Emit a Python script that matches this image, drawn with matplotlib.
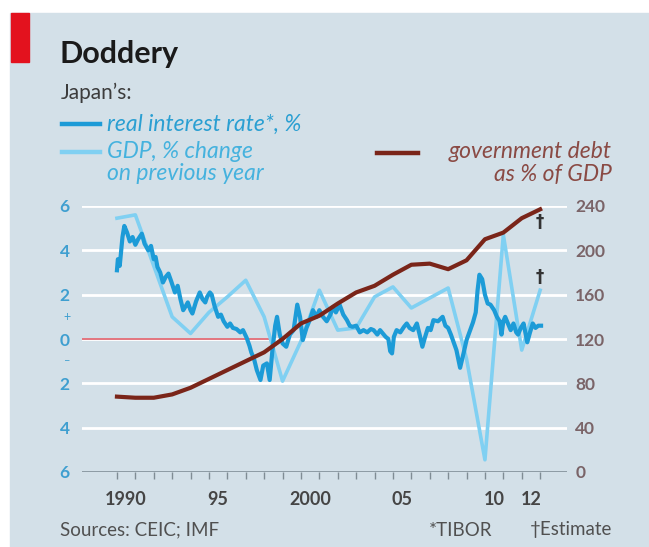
import matplotlib
matplotlib.use("Agg")
import matplotlib.pyplot as plt
from matplotlib.lines import Line2D
from matplotlib.patches import Rectangle

plt.rcParams['font.family'] = ['Lato', 'DejaVu Sans']

# real interest rate (TIBOR), %
rate_x = [1990.00, 1990.05, 1990.15, 1990.30, 1990.40, 1990.55, 1990.70, 1990.85,
          1991.00, 1991.15, 1991.35, 1991.50, 1991.70, 1991.85, 1992.00, 1992.10,
          1992.20, 1992.35, 1992.50, 1992.65, 1992.80, 1992.95, 1993.15, 1993.30,
          1993.45, 1993.60, 1993.75, 1993.85, 1994.00, 1994.10, 1994.30, 1994.50,
          1994.65, 1994.80, 1994.90, 1995.05, 1995.15, 1995.30, 1995.50, 1995.65,
          1995.80, 1996.00, 1996.15, 1996.30, 1996.50, 1996.70, 1996.85, 1997.05,
          1997.20, 1997.30, 1997.45, 1997.60, 1997.80, 1997.95, 1998.15, 1998.30,
          1998.45, 1998.60, 1998.70, 1998.85, 1999.00, 1999.20, 1999.40, 1999.60,
          1999.80, 1999.95, 2000.10, 2000.30, 2000.50, 2000.65, 2000.85, 2001.00,
          2001.20, 2001.40, 2001.60, 2001.75, 2001.90, 2002.10, 2002.30, 2002.50,
          2002.65, 2002.80, 2003.00, 2003.20, 2003.40, 2003.60, 2003.80, 2003.95,
          2004.15, 2004.30, 2004.45, 2004.60, 2004.75, 2004.85, 2004.95, 2005.05,
          2005.20, 2005.40, 2005.60, 2005.75, 2005.90, 2006.10, 2006.30, 2006.45,
          2006.60, 2006.75, 2006.90, 2007.05, 2007.20, 2007.45, 2007.70, 2007.85,
          2008.00, 2008.15, 2008.30, 2008.45, 2008.65, 2008.85, 2009.00, 2009.20,
          2009.35, 2009.50, 2009.60, 2009.70, 2009.85, 2010.00, 2010.15, 2010.30,
          2010.50, 2010.65, 2010.80, 2010.90, 2011.00, 2011.10, 2011.25, 2011.40,
          2011.55, 2011.70, 2011.80, 2011.95, 2012.10, 2012.30, 2012.45, 2012.60,
          2012.75, 2012.90, 2013.05]
rate_y = [3.1, 3.6, 3.3, 4.6, 5.1, 4.8, 4.4, 4.6,
          4.25, 4.5, 4.75, 4.3, 4.0, 4.2, 3.6, 3.7,
          3.25, 3.0, 2.55, 2.8, 2.95, 2.6, 2.1, 2.4,
          1.8, 1.3, 1.5, 1.65, 1.3, 1.15, 1.7, 2.1,
          1.8, 1.65, 1.9, 2.1, 2.0, 1.5, 1.0, 1.1,
          0.8, 0.55, 0.7, 0.5, 0.45, 0.3, 0.4, 0.05,
          -0.3, -0.6, -0.9, -1.4, -1.85, -1.2, -1.1, -1.85,
          -0.5, 0.6, 1.0, 0.2, -0.2, -0.35, 0.2, 0.4,
          1.55, 1.0, -0.05, 0.5, 0.9, 1.3, 1.0, 1.3,
          1.0, 0.8, 1.1, 1.45, 1.2, 1.55, 1.1, 0.85,
          0.6, 0.55, 0.6, 0.3, 0.4, 0.3, 0.45, 0.4,
          0.2, 0.4, 0.25, 0.1, 0.0, -0.55, -0.65, 0.1,
          0.4, 0.3, 0.55, 0.7, 0.5, 0.4, 0.7, 0.2,
          -0.35, 0.1, 0.5, 0.4, 0.85, 0.8, 1.0, 0.6,
          0.5, 0.2, -0.15, -0.5, -1.3, -0.6, -0.05, 0.4,
          0.75, 1.2, 2.2, 2.9, 2.7, 2.0, 1.6, 1.55,
          1.3, 1.0, 0.8, 0.2, 0.8, 1.0, 0.7, 0.4,
          0.7, 0.3, 0.2, 0.5, 0.7, -0.15, 0.3, 0.7,
          0.5, 0.6, 0.6]

# GDP, % change on previous year (plotted at year end)
gdp_x = list(range(1990, 2014))
gdp_y = [5.45, 5.6, 3.3, 1.0, 0.25, 1.2, 1.9, 2.65, 1.0, -1.9, -0.1, 2.2,
         0.4, 0.5, 1.9, 2.35, 1.4, 1.85, 2.3, -0.9, -5.45, 4.7, -0.5, 2.2]

# government debt, % of GDP (right axis)
debt_x = list(range(1990, 2014))
debt_y = [68, 67, 67, 70, 76, 84, 92, 100, 108, 120, 134, 141,
          152, 162, 168, 178, 187, 188, 183, 191, 210, 216, 229, 237]

left_ticks = [6, 4, 2, 0, -2, -4, -6]
left_labels = ['6', '4', '2', '0', '2', '4', '6']
right_ticks = [0, 40, 80, 120, 160, 200, 240]
year_labels = {1990: '1990', 1995: '95', 2000: '2000', 2005: '05', 2010: '10', 2012: '12'}

W, H = 649, 547
bg = '#d3e0e8'
c_rate = '#1c9bd7'
c_gdp = '#80d0f2'
c_debt = '#7a2519'
c_right = '#7a6468'
c_left = '#3f9fd0'


def px(x, y):
    return x / W, 1 - y / H


fig = plt.figure(figsize=(W / 100, H / 100), dpi=100, facecolor='white')
fig.patches.append(Rectangle(px(10, H), (W - 10) / W, (H - 13) / H,
                             transform=fig.transFigure, color=bg, zorder=-10))
fig.patches.append(Rectangle(px(11, 62), 18 / W, 49 / H,
                             transform=fig.transFigure, color='#e3121e', zorder=-5))

x0, y0 = px(82, 472)
x1, y1 = px(567, 206)
ax = fig.add_axes([x0, y0, x1 - x0, y1 - y0])
ax.set_facecolor('none')
ax.set_xlim(1988.1, 2014.46)
ax.set_ylim(-6, 6)
for s in ax.spines.values():
    s.set_visible(False)

# grid
for v in left_ticks:
    if v == -6:
        ax.axhline(v, color='#8d9ba4', lw=1.4, zorder=1)
    else:
        ax.axhline(v, color='white', lw=2.0, zorder=1)
ax.plot([1988.1, 1998.3], [0, 0], color='#e06a74', lw=1.3, zorder=2)

ax.plot(gdp_x, gdp_y, color=c_gdp, lw=2.6, zorder=3, solid_joinstyle='round')
ax.plot(rate_x, rate_y, color=c_rate, lw=3.0, zorder=4, solid_joinstyle='round')

ax.set_yticks(left_ticks)
ax.set_yticklabels(left_labels)
ax.tick_params(axis='y', length=0, pad=9, labelsize=12.5, labelcolor=c_left)
for lab in ax.get_yticklabels():
    lab.set_fontweight('bold')

ax.set_xticks(range(1990, 2014))
ax.set_xticklabels([])
ax.tick_params(axis='x', which='major', length=5, width=1, color='#7f8c94', direction='out')
ax.set_xticks([y + 0.5 for y in year_labels], minor=True)
ax.set_xticklabels(list(year_labels.values()), minor=True)
ax.tick_params(axis='x', which='minor', length=0, pad=14, labelsize=13, labelcolor='#454545')
for lab in ax.get_xticklabels(minor=True):
    lab.set_fontweight('bold')

ax2 = ax.twinx()
ax2.set_ylim(0, 240)
for s in ax2.spines.values():
    s.set_visible(False)
ax2.plot(debt_x, debt_y, color=c_debt, lw=3.0, zorder=5, solid_joinstyle='round')
ax2.set_yticks(right_ticks)
ax2.tick_params(axis='y', length=0, pad=6, labelsize=12.5, labelcolor=c_right)
for lab in ax2.get_yticklabels():
    lab.set_fontweight('bold')

# estimate markers
ax2.text(2013.0, 226, '\u2020', ha='center', va='center', fontsize=12, color='#333333',
         fontweight='bold', family=['DejaVu Sans'])
ax.text(2013.0, 2.8, '\u2020', ha='center', va='center', fontsize=12, color='#333333',
        fontweight='bold', family=['DejaVu Sans'])

# plus / minus signs around zero
fig.text(*px(67, 317), '+', ha='center', va='center', fontsize=9, color=c_left)
fig.text(*px(67, 361), '\u2013', ha='center', va='center', fontsize=8, color=c_left)

# titles
fig.text(*px(59, 63), 'Doddery', fontsize=22, fontweight='bold', color='#1a1a1a')
fig.text(*px(61, 99), 'Japan\u2019s:', fontsize=15, color='#3c3c3c')

# legend
fig.add_artist(Line2D([62 / W, 100 / W], [1 - 124 / H] * 2, color=c_rate, lw=3.2))
fig.text(*px(107, 124), 'real interest rate*, %', fontsize=16.5, style='italic',
         color='#2a9fd2', va='center')
fig.add_artist(Line2D([62 / W, 100 / W], [1 - 152 / H] * 2, color=c_gdp, lw=3.2))
fig.text(*px(107, 152), 'GDP, % change', fontsize=16.5, style='italic',
         color='#45b2de', va='center')
fig.text(*px(107, 174), 'on previous year', fontsize=16.5, style='italic',
         color='#45b2de', va='center')
fig.add_artist(Line2D([377 / W, 418 / W], [1 - 153 / H] * 2, color=c_debt, lw=3.2))
fig.text(*px(612, 152), 'government debt', fontsize=16.5, style='italic',
         color='#8a4a44', va='center', ha='right')
fig.text(*px(612, 174), 'as % of GDP', fontsize=16.5, style='italic',
         color='#8a4a44', va='center', ha='right')

# footer
fig.text(*px(60, 530), 'Sources: CEIC; IMF', fontsize=13.5, color='#505050', va='center')
fig.text(*px(492, 530), '*TIBOR', fontsize=13.5, color='#505050', va='center', ha='right')
fig.text(*px(612, 530), '\u2020Estimate', fontsize=13.5, color='#505050', va='center', ha='right',
         family=['Lato', 'DejaVu Sans'])

fig.savefig('out.png', dpi=100, facecolor='white')
